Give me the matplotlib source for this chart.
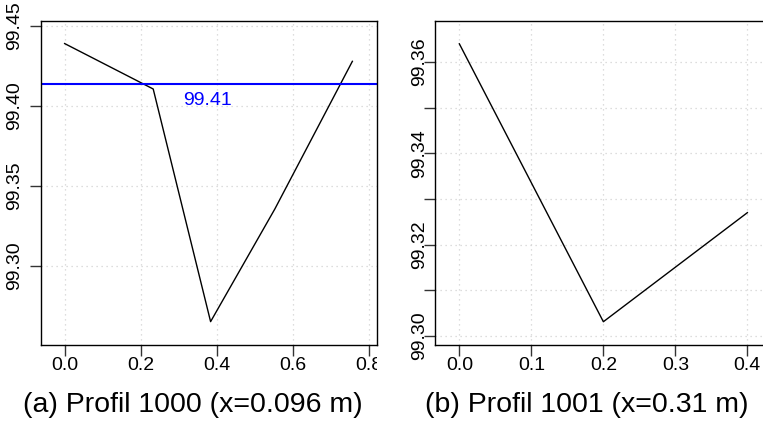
import matplotlib as mpl
mpl.use('Agg')
import matplotlib.pyplot as plt
from matplotlib.transforms import Bbox, TransformedBbox

plt.rcParams['font.family'] = ['Liberation Sans', 'DejaVu Sans']

# profile 1000
left_x = [0.0, 0.233, 0.384, 0.553, 0.757]
left_y = [99.439, 99.4106, 99.2652, 99.3356, 99.4279]
left_mean = 99.4139
left_xticks = [0.0, 0.2, 0.4, 0.6, 0.8]
left_yticks = [99.30, 99.35, 99.40, 99.45]

# profile 1001
right_x = [0.0, 0.2, 0.4]
right_y = [99.364, 99.3031, 99.327]
right_xticks = [0.0, 0.1, 0.2, 0.3, 0.4]
right_yticks = [99.30, 99.31, 99.32, 99.33, 99.34, 99.35, 99.36]
right_ylabels = ['99.30', '', '99.32', '', '99.34', '', '99.36']

captions = ['(a) Profil 1000 (x=0.096 m)', '(b) Profil 1001 (x=0.31 m)']

W, H = 763, 432
fig = plt.figure(figsize=(W / 100, H / 100), dpi=100)

def style(ax, ypad):
    for s in ax.spines.values():
        s.set_linewidth(1.0)
        s.set_color('black')
    ax.tick_params(axis='both', length=8, width=1.0, labelsize=14, color='#333333')
    ax.tick_params(axis='x', pad=1)
    ax.tick_params(axis='y', pad=ypad)
    for lab in ax.get_yticklabels():
        lab.set_rotation(90)
        lab.set_va('center')
    ax.grid(True, color='#d3d3d3', linestyle=(0, (1, 3)), linewidth=0.9)
    ax.set_axisbelow(True)

ax1 = fig.add_axes([40.7 / W, (H - 345) / H, 336 / W, 324 / H])
ax1.plot(left_x, left_y, color='black', linewidth=1.0)
ax1.axhline(left_mean, color='#0000ff', linewidth=1.5)
ax1.text(0.375, 99.4033, '%.2f' % left_mean, color='#0000ff', fontsize=14,
         ha='center', va='center')
ax1.set_xlim(-0.063, 0.821)
ax1.set_ylim(99.2506, 99.4531)
ax1.set_xticks(left_xticks)
ax1.set_xticklabels(['%.1f' % v for v in left_xticks])
ax1.set_yticks(left_yticks)
ax1.set_yticklabels(['%.2f' % v for v in left_yticks])
style(ax1, 5)

ax2 = fig.add_axes([435 / W, (H - 345) / H, 337 / W, 324 / H])
ax2.plot(right_x, right_y, color='black', linewidth=1.0)
ax2.set_xlim(-0.0338, 0.4342)
ax2.set_ylim(99.298, 99.369)
ax2.set_xticks(right_xticks)
ax2.set_xticklabels(['%.1f' % v for v in right_xticks])
ax2.set_yticks(right_yticks)
ax2.set_yticklabels(right_ylabels)
style(ax2, -3)

fig.text(193.3 / W, (H - 405) / H, captions[0], fontsize=20.5, ha='center', va='center')
fig.text(586.7 / W, (H - 405) / H, captions[1], fontsize=20.5, ha='center', va='center')

# the left subfigure is cut at its right edge
fig.canvas.draw()
clip = TransformedBbox(Bbox([[0, 0], [377 / W, 1]]), fig.transFigure)
for lab in ax1.get_xticklabels():
    lab.set_clip_box(clip)
    lab.set_clip_on(True)

fig.savefig('out.png', dpi=100)
